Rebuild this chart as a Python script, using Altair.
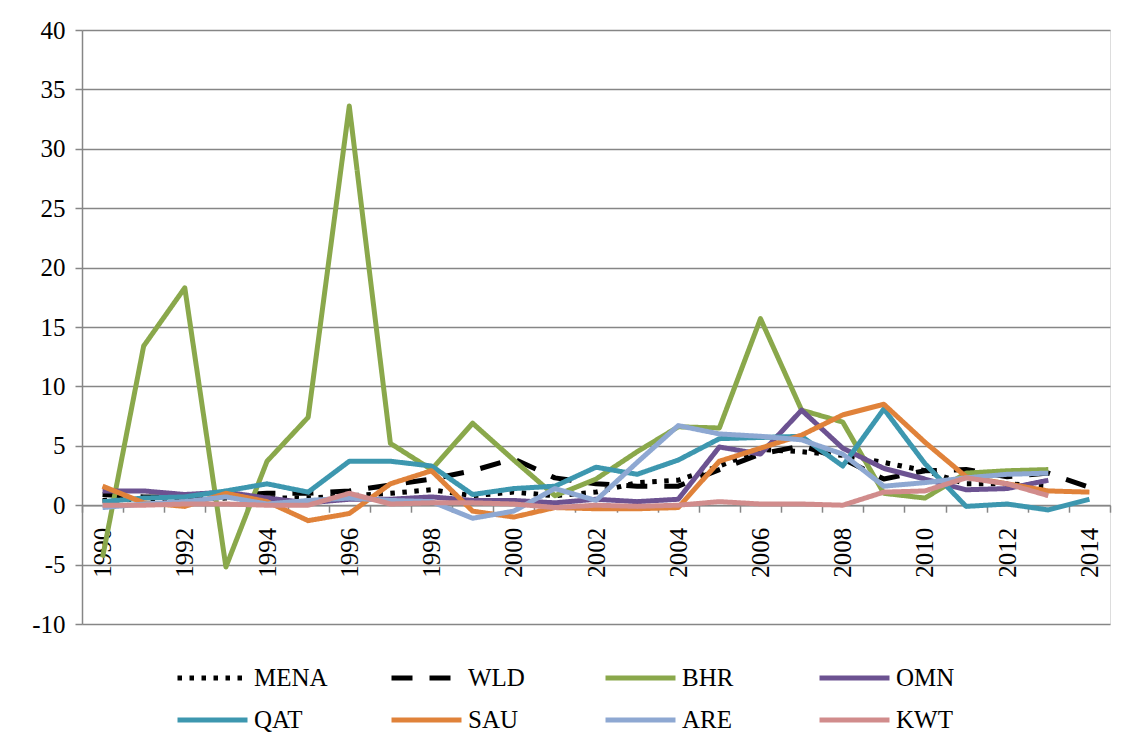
import altair as alt
import pandas as pd

years = list(range(1990, 2015))

series_names = ["MENA", "WLD", "BHR", "OMN", "QAT", "SAU", "ARE", "KWT"]
series_colors = ["#000000", "#000000", "#8AA84B", "#6C5291", "#3D97AF", "#E0823A", "#8EA8D2", "#D18C8C"]
series_dashes = [[4.5, 7.5], [21, 17], [1, 0], [1, 0], [1, 0], [1, 0], [1, 0], [1, 0]]

MENA = [0.4, 0.5, 0.5, 0.6, 0.6, 0.6, 0.8, 1.0, 1.3, 0.8, 1.1, 0.8, 1.1, 1.9, 2.1, 3.3, 4.7, 4.5, 4.2, 3.6, 2.9, 1.8, 1.8, 1.6, None]
WLD = [0.9, 0.7, 0.7, 0.8, 1.0, 1.0, 1.2, 1.7, 2.2, 2.9, 3.9, 2.3, 1.8, 1.6, 1.6, 3.0, 4.3, 5.0, 3.9, 2.2, 2.9, 3.0, 2.4, 2.7, 1.5]
BHR = [-4.4, 13.4, 18.3, -5.2, 3.7, 7.4, 33.6, 5.2, 3.0, 6.9, 3.8, 0.8, 2.2, 4.5, 6.6, 6.5, 15.7, 8.0, 7.0, 1.0, 0.6, 2.7, 2.9, 3.0, None]
OMN = [1.2, 1.2, 0.9, 1.1, 0.6, 0.2, 0.5, 0.5, 0.7, 0.4, 0.4, 0.2, 0.5, 0.3, 0.5, 4.9, 4.3, 8.0, 4.8, 3.1, 2.2, 1.3, 1.4, 2.1, None]
QAT = [0.3, 0.6, 0.7, 1.2, 1.8, 1.1, 3.7, 3.7, 3.3, 0.9, 1.4, 1.6, 3.2, 2.6, 3.8, 5.6, 5.7, 5.8, 3.3, 8.1, 3.5, -0.1, 0.1, -0.4, 0.5]
SAU = [1.6, 0.2, -0.1, 1.0, 0.3, -1.3, -0.7, 1.8, 2.9, -0.5, -1.0, -0.2, -0.3, -0.3, -0.2, 3.7, 4.8, 5.9, 7.6, 8.5, 5.3, 2.4, 1.8, 1.2, 1.1]
ARE = [-0.2, 0.1, 0.3, 0.7, 0.1, 0.4, 0.6, 0.4, 0.3, -1.1, -0.5, 1.4, 0.4, 3.6, 6.7, 6.0, 5.8, 5.5, 4.3, 1.6, 1.9, 2.3, 2.6, 2.7, None]
KWT = [0.0, 0.0, 0.1, 0.1, 0.0, 0.0, 1.0, 0.1, 0.2, 0.2, 0.1, -0.2, 0.0, -0.1, 0.0, 0.3, 0.1, 0.1, 0.0, 1.1, 1.2, 2.3, 1.8, 0.8, None]

y_ticks = [-10, -5, 0, 5, 10, 15, 20, 25, 30, 35, 40]
x_tick_positions = [y - 0.5 for y in years] + [years[-1] + 0.5]

values = {"MENA": MENA, "WLD": WLD, "BHR": BHR, "OMN": OMN,
          "QAT": QAT, "SAU": SAU, "ARE": ARE, "KWT": KWT}
rows = []
for name in series_names:
    for yr, v in zip(years, values[name]):
        if v is not None:
            rows.append({"year": yr, "value": v, "series": name})
df = pd.DataFrame(rows)

FONT = "Liberation Serif"
W, H = 1028, 594
band_px = W / len(years)
zero_offset = -H * (0 - y_ticks[0]) / (y_ticks[-1] - y_ticks[0])

legend = alt.Legend(
    title=None, orient="none", legendX=93, legendY=635, columns=4, direction="horizontal",
    symbolType="stroke", symbolSize=4900, symbolStrokeWidth=5, clipHeight=26,
    labelFont=FONT, labelFontSize=25, labelColor="black", labelOffset=4,
    gridAlign="all", columnPadding=61, rowPadding=16, labelLimit=200,
)

chart = alt.Chart(df).mark_line(strokeWidth=5, strokeJoin="round", strokeCap="butt").encode(
    x=alt.X("year:Q",
            scale=alt.Scale(domain=[years[0] - 0.5, years[-1] + 0.5], nice=False, zero=False),
            axis=alt.Axis(values=x_tick_positions, title=None, grid=False,
                          offset=zero_offset, domainColor="#868686", domainWidth=1.5,
                          tickColor="#868686", tickWidth=1.5, tickSize=7,
                          labelAngle=-90, labelOffset=band_px / 2, labelPadding=15,
                          labelExpr="((datum.value + 0.5) % 2 == 0 && datum.value < 2014) ? '' + (datum.value + 0.5) : ''",
                          labelFlush=False, labelOverlap=False, labelBound=False,
                          labelFont=FONT, labelFontSize=25, labelColor="black")),
    y=alt.Y("value:Q",
            scale=alt.Scale(domain=[y_ticks[0], y_ticks[-1]], nice=False, zero=False),
            axis=alt.Axis(values=y_ticks, title=None, grid=True, gridColor="#868686", gridWidth=1.5,
                          domainColor="#868686", domainWidth=1.5,
                          tickColor="#868686", tickWidth=1.5, tickSize=7,
                          labelExpr="'' + datum.value", labelPadding=10,
                          labelFont=FONT, labelFontSize=25, labelColor="black")),
    color=alt.Color("series:N", scale=alt.Scale(domain=series_names, range=series_colors),
                    legend=legend),
    strokeDash=alt.StrokeDash("series:N", scale=alt.Scale(domain=series_names, range=series_dashes),
                              legend=legend),
    order=alt.Order("year:Q"),
).properties(
    width=W, height=H,
    autosize=alt.AutoSizeParams(type="none"),
    padding={"left": 74, "top": 22, "right": 15, "bottom": 124},
).configure_view(stroke=None).configure(background="white")

chart.save("out.html", embed_options={"renderer": "svg", "actions": False})
